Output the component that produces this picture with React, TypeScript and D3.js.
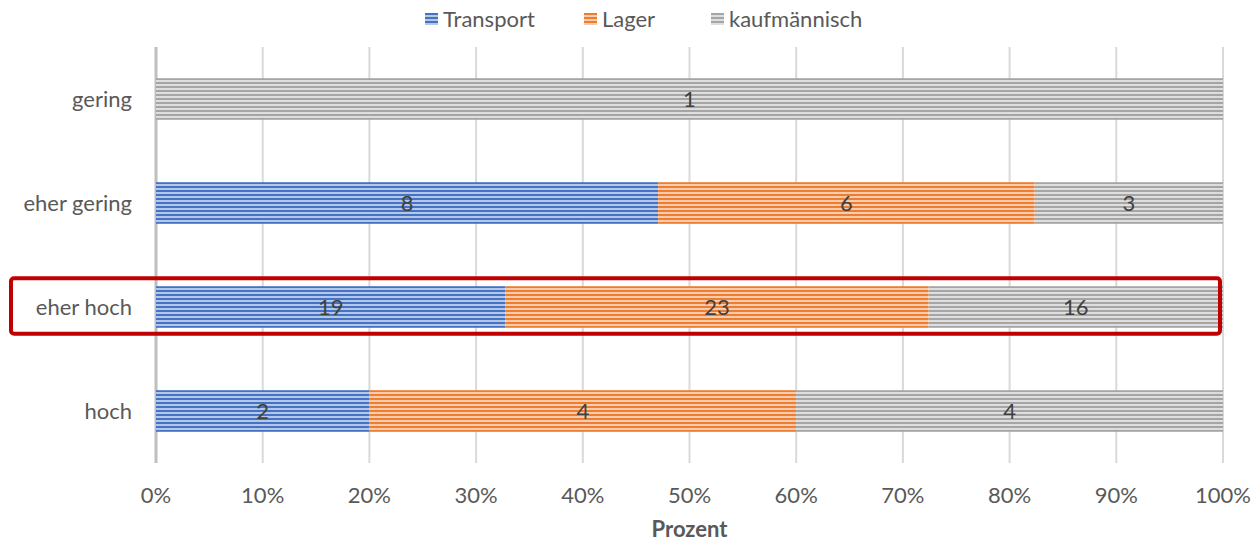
import React from "react";
import * as d3 from "d3";

const categories = ["gering", "eher gering", "eher hoch", "hoch"];
const seriesNames = ["Transport", "Lager", "kaufmännisch"];
const transport = [0, 8, 19, 2];
const lager = [0, 6, 23, 4];
const kaufm = [1, 3, 16, 4];
const ticks = [0, 0.1, 0.2, 0.3, 0.4, 0.5, 0.6, 0.7, 0.8, 0.9, 1];
const highlighted = "eher hoch";

const colors = [
  { id: "pT", dark: "#4472c4", light: "#b4c7e7" },
  { id: "pL", dark: "#ed7d31", light: "#f8cbad" },
  { id: "pK", dark: "#a5a5a5", light: "#dedede" },
];

const W = 1253;
const H = 543;
const FONT = "Lato, 'Open Sans', sans-serif";
const FS = 22;

export default function App() {
  const x = d3.scaleLinear().domain([0, 1]).range([156, 1223]);
  const y = d3.scaleBand<string>().domain(categories).range([47, 463]).paddingInner(0.6).paddingOuter(0.3);
  const series = [transport, lager, kaufm];

  const rows = categories.map((c, i) => {
    const vals = series.map((s) => s[i]);
    const total = d3.sum(vals);
    let acc = 0;
    const segs = vals.map((v, k) => {
      const x0 = acc / total;
      acc += v;
      return { k, v, x0, x1: acc / total };
    });
    return { c, segs };
  });

  const bw = y.bandwidth();
  const hy = y(highlighted)!;

  return (
    <svg width={W} height={H} style={{ position: "absolute", left: 0, top: 0, background: "#fff" }} fontFamily={FONT}>
      <defs>
        {colors.map((p) => (
          <pattern key={p.id} id={p.id} width={8} height={4} patternUnits="userSpaceOnUse">
            <rect width={8} height={4} fill={p.light} />
            <rect y={2} width={8} height={2} fill={p.dark} />
          </pattern>
        ))}
      </defs>

      {/* legend */}
      {seriesNames.map((n, i) => {
        const lx = [425, 584, 711][i];
        return (
          <g key={n} transform={`translate(${lx},19)`}>
            <rect x={0} y={-6} width={13} height={12} fill={`url(#${colors[i].id})`} />
            <text x={18} y={8} fontSize={FS} fill="#595959">{n}</text>
          </g>
        );
      })}

      {/* grid */}
      {ticks.map((t) => (
        <line key={t} x1={x(t)} x2={x(t)} y1={47} y2={463} stroke={t === 0 ? "#bfbfbf" : "#d9d9d9"} strokeWidth={t === 0 ? 3 : 2} />
      ))}

      {/* bars */}
      {rows.map((r) => (
        <g key={r.c}>
          {r.segs.filter((s) => s.v > 0).map((s) => (
            <g key={s.k}>
              <rect x={x(s.x0)} y={y(r.c)!} width={x(s.x1) - x(s.x0)} height={bw} fill={`url(#${colors[s.k].id})`} />
              <text x={(x(s.x0) + x(s.x1)) / 2} y={y(r.c)! + bw / 2 + 8} textAnchor="middle" fontSize={FS} fill="#404040">{s.v}</text>
            </g>
          ))}
          <text x={132} y={y(r.c)! + bw / 2 + 8} textAnchor="end" fontSize={FS} fill="#595959">{r.c}</text>
        </g>
      ))}

      {/* tick labels */}
      {ticks.map((t) => (
        <text key={t} x={x(t)} y={503} textAnchor="middle" fontSize={FS} fill="#595959">{d3.format(".0%")(t)}</text>
      ))}
      <text x={x(0.5)} y={537} textAnchor="middle" fontSize={FS} fontWeight="bold" fill="#595959">Prozent</text>

      {/* highlight */}
      <rect x={11} y={hy - 8} width={1209} height={bw + 14} rx={3} fill="none" stroke="#c00000" strokeWidth={4} />
    </svg>
  );
}
